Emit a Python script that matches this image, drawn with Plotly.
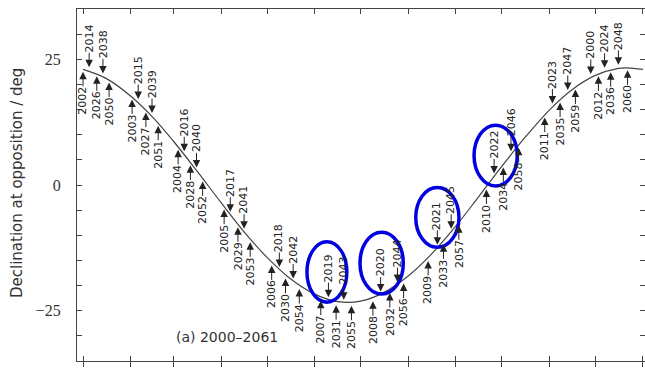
import plotly.graph_objects as go

# ---- data ---------------------------------------------------------------
# reference curve (declination of the point opposite the Sun through the year)
curve_dates = ["2001-01-01", "2001-01-16", "2001-02-01", "2001-02-16", "2001-03-01",
               "2001-03-16", "2001-04-01", "2001-04-16", "2001-05-01", "2001-05-16",
               "2001-06-01", "2001-06-16", "2001-07-01", "2001-07-16", "2001-08-01",
               "2001-08-16", "2001-09-01", "2001-09-16", "2001-10-01", "2001-10-16",
               "2001-11-01", "2001-11-16", "2001-12-01", "2001-12-16", "2001-12-22",
               "2002-01-01"]
curve_decl = [23.0, 21.2, 17.7, 13.3, 8.7, 2.9, -3.5, -9.3, -14.4, -18.6,
              -21.7, -23.2, -23.1, -21.4, -18.1, -13.8, -8.2, -2.3, 3.7, 9.4,
              14.9, 19.0, 21.8, 23.2, 23.3, 23.0]

# oppositions: year, date (month-day), declination at opposition
opp_years = [2000, 2002, 2003, 2004, 2005, 2006, 2007, 2008, 2009, 2010, 2011, 2012,
             2014, 2015, 2016, 2017, 2018, 2019, 2020, 2021, 2022, 2023, 2024,
             2026, 2027, 2028, 2029, 2030, 2031, 2032, 2033, 2034, 2035, 2036,
             2038, 2039, 2040, 2041, 2042, 2043, 2044, 2045, 2046, 2047, 2048,
             2050, 2051, 2052, 2053, 2054, 2055, 2056, 2057, 2058, 2059, 2060]
opp_dates = ["11-28", "01-01", "02-02", "03-04", "04-03", "05-04", "06-05", "07-09", "08-14", "09-21", "10-29", "12-03",
             "01-05", "02-06", "03-08", "04-07", "05-09", "06-10", "07-14", "08-20", "09-26", "11-03", "12-07",
             "01-10", "02-11", "03-12", "04-12", "05-13", "06-15", "07-20", "08-24", "10-02", "11-08", "12-11",
             "01-14", "02-15", "03-16", "04-16", "05-18", "06-20", "07-25", "08-29", "10-07", "11-13", "12-16",
             "01-18", "02-19", "03-20", "04-20", "05-22", "06-25", "07-29", "09-03", "10-12", "11-18", "12-22"]
opp_decl = [21.5, 23.1, 17.6, 7.6, -4.3, -15.4, -22.4, -22.5, -14.5, -0.3, 14.0, 22.2,
            22.8, 16.5, 6.1, -5.9, -16.9, -22.9, -21.8, -12.5, 1.7, 15.6, 22.7,
            22.2, 15.0, 4.5, -7.8, -18.0, -23.3, -20.9, -11.2, 4.1, 17.0, 23.0,
            21.6, 13.7, 2.9, -9.3, -19.2, -23.4, -19.9, -9.3, 6.1, 18.3, 23.3,
            21.0, 12.4, 1.3, -10.8, -20.1, -23.4, -19.0, -7.4, 8.0, 19.6, 23.4]

# hand-drawn ellipses around the 2019-2022 labels: (x0, x1, y0, y1)
ellipses = [("2001-05-27", "2001-06-22", -23.3, -11.3),
            ("2001-06-30 14:00", "2001-07-28 19:00", -21.7, -9.4),
            ("2001-08-05 22:00", "2001-09-03 02:00", -12.4, -0.5),
            ("2001-09-12 22:00", "2001-10-11 02:00", -0.2, 11.9)]

month_starts = ["2001-%02d-01" % m for m in range(1, 13)] + ["2002-01-01"]
x_range = ["2000-12-28 02:10", "2002-01-02 08:40"]

# ---- figure ---------------------------------------------------------------
fig = go.Figure()
fig.add_trace(go.Scatter(x=curve_dates, y=curve_decl, mode="lines",
                         line=dict(color="#444444", width=1.2, shape="spline"),
                         hoverinfo="skip", showlegend=False))
# helper trace so the overlaid axis (outer bottom ticks) is drawn
fig.add_trace(go.Scatter(x=curve_dates, y=curve_decl, mode="lines", xaxis="x2",
                         opacity=0, line=dict(width=1), hoverinfo="skip", showlegend=False))

for yr, d, dec in zip(opp_years, opp_dates, opp_decl):
    above = ((yr - 2002) // 12) % 2 == 1
    fig.add_annotation(x="2001-" + d, y=dec, text=str(yr), textangle=-90,
                       showarrow=True, arrowhead=2, arrowsize=1.5, arrowwidth=1,
                       arrowcolor="#222222", ax=0, ay=-32 if above else 32,
                       standoff=3, borderpad=0,
                       font=dict(family="DejaVu Sans", size=11, color="#222222"))

for (x0, x1, y0, y1) in ellipses:
    fig.add_shape(type="circle", xref="x", yref="y", x0=x0, x1=x1, y0=y0, y1=y1,
                  line=dict(color="#0000e0", width=3.5), layer="above")

fig.add_annotation(xref="paper", yref="paper", x=0.171, y=0.068, xanchor="left",
                   yanchor="middle", text="(a) 2000\u20132061", showarrow=False,
                   font=dict(family="DejaVu Sans", size=14, color="#333333"))
fig.add_annotation(xref="paper", yref="paper", x=-0.1056, y=0.5057, xanchor="center",
                   yanchor="middle", text="Declination at opposition / deg",
                   textangle=-90, showarrow=False,
                   font=dict(family="DejaVu Sans", size=15, color="#333333"))

fig.update_layout(width=645, height=369, margin=dict(l=77, r=0, t=9, b=8),
                  plot_bgcolor="white", paper_bgcolor="white", showlegend=False,
                  xaxis=dict(type="date", range=x_range, tickvals=month_starts,
                             ticks="inside", ticklen=5, tickwidth=1, tickcolor="#444444",
                             showline=True, linecolor="#444444", linewidth=1.3,
                             mirror="ticks", showgrid=False, zeroline=False,
                             showticklabels=False),
                  xaxis2=dict(type="date", range=x_range, tickvals=month_starts,
                              overlaying="x", side="bottom", ticks="outside", ticklen=5,
                              tickwidth=1, tickcolor="#444444", showline=False,
                              showgrid=False, zeroline=False, showticklabels=False),
                  yaxis=dict(range=[-35, 35], tickvals=[-25, 0, 25],
                             ticktext=["\u221225", "0", "25"], ticks="inside", ticklen=5,
                             tickwidth=1, tickcolor="#444444", showline=True,
                             linecolor="#444444", linewidth=1.3, mirror="ticks",
                             showgrid=False, zeroline=False, ticklabelstandoff=12,
                             tickfont=dict(family="Liberation Serif", size=16, color="#333333"),
                             minor=dict(dtick=5, tick0=0, ticks="inside", ticklen=5,
                                        tickwidth=1, tickcolor="#444444")))

fig.write_html("out.html", config={"displayModeBar": False},
               post_script="document.body.style.margin='0';"
                           "document.body.style.overflow='hidden';")
